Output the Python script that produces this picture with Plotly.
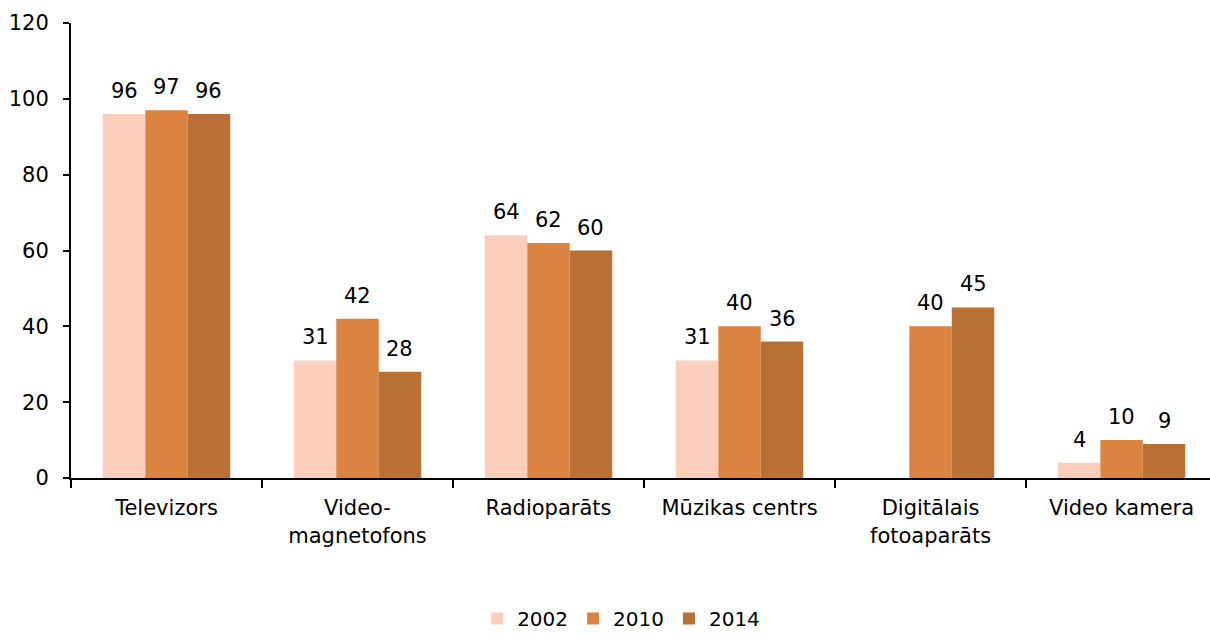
import plotly.graph_objects as go

categories = ["Televizors", "Video-<br>magnetofons", "Radioparāts", "Mūzikas centrs",
              "Digitālais<br>fotoaparāts", "Video kamera"]
years = ["2002", "2010", "2014"]
v2002 = [96, 31, 64, 31, None, 4]
v2010 = [97, 42, 62, 40, 40, 10]
v2014 = [96, 28, 60, 36, 45, 9]
colors = ["#FBCFBB", "#DB8341", "#B87034"]
y_ticks = [0, 20, 40, 60, 80, 100, 120]

FONT = "DejaVu Sans, Verdana, sans-serif"
W, H = 1210, 638
ML, MR, MT, MB = 71, 0, 23, 160
XRANGE = [-0.5, 5.463]
BARGAP = 0.333

fig = go.Figure()
series = [v2002, v2010, v2014]
for name, vals, col in zip(years, series, colors):
    fig.add_trace(go.Bar(
        x=categories, y=vals, name=name,
        marker=dict(color=col, line=dict(width=0)),
        cliponaxis=False,
    ))

# data labels as annotations above each bar
cat_px = (W - ML - MR) / (XRANGE[1] - XRANGE[0])
bar_px = cat_px * (1 - BARGAP) / len(series)
annotations = []
for si, vals in enumerate(series):
    for cat, v in zip(categories, vals):
        if v is None:
            continue
        annotations.append(dict(
            x=cat, y=v, xref="x", yref="y", text=str(v), showarrow=False,
            yanchor="bottom", xanchor="center",
            xshift=(si - 1) * bar_px, yshift=9,
            font=dict(family=FONT, size=21, color="#000000"),
        ))

fig.update_layout(
    width=W, height=H,
    margin=dict(l=ML, r=MR, t=MT, b=MB, autoexpand=False),
    paper_bgcolor="white", plot_bgcolor="white",
    barmode="group", bargap=BARGAP, bargroupgap=0,
    font=dict(family=FONT, size=20, color="#000000"),
    showlegend=True,
    legend=dict(orientation="h", x=0.483, xanchor="center",
                yref="container", y=-0.014, yanchor="bottom",
                font=dict(family=FONT, size=20), itemwidth=30),
    annotations=annotations,
)
fig.update_xaxes(
    type="category", range=XRANGE, automargin=False,
    showline=True, linecolor="#000000", linewidth=2,
    ticks="outside", tickson="boundaries", ticklen=8, tickwidth=2, tickcolor="#000000",
    showgrid=False, zeroline=False, ticklabelstandoff=10,
    tickfont=dict(family=FONT, size=21),
)
fig.update_yaxes(
    range=[0, 120], tickvals=y_ticks, automargin=False,
    showline=True, linecolor="#000000", linewidth=2,
    ticks="outside", ticklen=6, tickwidth=2, tickcolor="#000000",
    showgrid=False, zeroline=False, ticklabelstandoff=10,
    tickfont=dict(family=FONT, size=21),
)
fig.write_html("out.html", config={"displayModeBar": False},
               post_script="document.body.style.margin='0';document.body.style.overflow='hidden';")
